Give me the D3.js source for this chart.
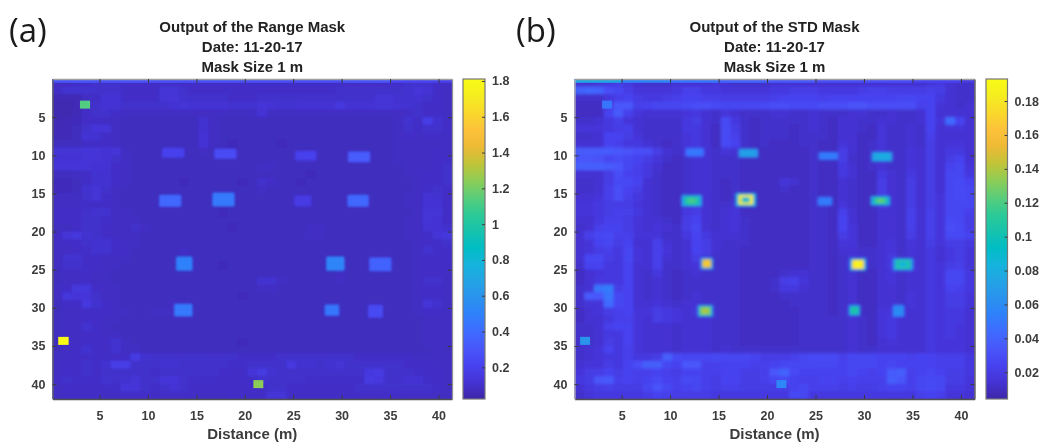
<!DOCTYPE html>
<html><head><meta charset="utf-8">
<script src="https://cdn.jsdelivr.net/npm/d3@7/dist/d3.min.js"></script>
<style>
html,body{margin:0;padding:0;background:#fff;overflow:hidden}
svg{display:block}
text{font-family:"Liberation Sans",Arial,sans-serif;font-weight:bold;fill:#3c3c3c;filter:blur(0.3px)}
</style></head><body>
<script>
const distanceTicks=[5,10,15,20,25,30,35,40];
const rowTicks=[5,10,15,20,25,30,35,40];
const rangeBarTicks=[0.2,0.4,0.6,0.8,1,1.2,1.4,1.6,1.8];
const stdBarTicks=[0.02,0.04,0.06,0.08,0.1,0.12,0.14,0.16,0.18];
const titleLinesA=["Output of the Range Mask","Date: 11-20-17","Mask Size 1 m"];
const titleLinesB=["Output of the STD Mask","Date: 11-20-17","Mask Size 1 m"];
const parula=["#3e26a8","#4433d4","#4742f0","#4856fa","#3f6bff","#2f80fb","#2a92ee","#23a4e5","#14b4dc","#01bdc4","#18c3ac","#2dca95","#5ccd79","#8ecd55","#c2c438","#eeba36","#fdc23a","#f9d82c","#f5ed20","#f9fb15"];
const rangeGrid=[
[9,9,10,10,11,11,11,10,10,10, 10,10,10,10,10,10,10,10,10,10, 10,10,10,10,10,10,10,10,10,10, 10,10,10,10,10,10,11,12,11,10, 9],
[10,12,12,12,11,11,11,10,10,10, 10,14,14,11,10,10,10,10,10,10, 10,10,10,10,10,10,10,10,10,11, 11,11,11,11,11,11,12,15,13,10, 9],
[6,6,6,9,10,13,13,10,10,10, 10,14,14,12,11,11,11,11,10,10, 10,11,11,11,11,11,11,11,11,11, 11,11,11,14,14,12,12,13,11,10, 9],
[5,5,6,9,11,13,13,11,11,11, 11,11,13,14,13,13,13,13,12,12, 12,15,13,12,12,13,13,13,13,17, 13,13,13,14,14,13,12,11,10,10, 9],
[5,5,6,10,11,11,10,9,9,9, 9,9,9,9,9,9,9,9,9,9, 9,13,9,9,9,9,9,9,9,9, 9,9,9,9,9,9,10,11,10,10, 9],
[6,6,7,10,10,9,9,8,8,8, 8,8,8,8,8,12,9,8,8,8, 8,8,8,8,8,8,8,8,8,8, 8,8,8,8,8,9,12,10,20,12, 10],
[6,6,8,11,15,15,9,8,8,8, 8,8,8,8,8,12,9,8,8,8, 8,8,8,8,8,8,8,8,8,8, 8,8,8,8,8,9,11,10,11,11, 10],
[6,6,8,13,12,10,9,8,8,8, 8,8,8,8,8,13,9,8,8,8, 8,8,8,8,8,8,8,8,8,8, 8,8,8,8,8,9,10,9,10,10, 9],
[8,8,8,10,10,10,9,8,8,8, 8,8,8,8,8,13,9,8,7,8, 8,8,8,7,8,8,8,8,8,8, 8,8,8,8,8,9,9,9,9,9, 9],
[14,14,14,15,15,13,14,9,8,8, 8,8,8,8,8,9,8,8,7,8, 8,8,8,8,8,8,8,8,8,8, 8,8,8,8,8,9,9,9,9,10, 9],
[13,13,13,14,14,13,11,9,8,8, 8,8,8,8,8,8,8,8,8,8, 8,8,8,8,8,8,8,8,8,8, 8,8,8,8,8,9,9,9,9,10, 10],
[15,15,15,15,13,13,10,9,8,8, 8,8,8,8,8,8,8,8,8,8, 8,9,9,8,8,8,8,8,8,8, 8,8,8,8,8,8,9,9,9,10, 11],
[8,8,9,10,12,12,10,9,8,8, 8,8,8,8,8,8,8,8,8,8, 8,8,8,8,8,8,7,8,8,8, 8,8,8,8,8,8,9,9,10,10, 11],
[7,7,8,10,12,12,10,9,8,8, 8,8,8,7,8,8,8,8,8,7, 8,11,10,8,8,7,8,8,8,8, 8,8,8,8,8,8,8,9,10,10, 11],
[7,7,8,12,14,11,9,8,8,8, 8,8,8,8,8,8,8,8,8,8, 8,9,8,8,8,8,8,8,8,8, 8,8,8,8,8,8,8,9,10,11, 10],
[9,9,9,11,14,10,9,8,8,8, 8,8,8,8,8,8,8,8,8,8, 8,8,8,8,8,8,8,8,8,8, 8,8,8,8,8,8,9,9,13,12, 10],
[9,9,9,10,10,10,9,8,8,8, 8,8,8,8,8,8,8,8,8,8, 8,8,8,8,8,8,8,8,8,8, 8,8,8,8,8,8,9,9,13,13, 10],
[10,10,10,11,12,12,9,9,8,8, 8,8,8,8,8,8,8,7,8,8, 8,8,8,8,8,8,8,8,8,8, 8,8,8,8,8,8,8,9,14,14, 10],
[10,10,10,11,11,10,9,9,9,8, 8,8,8,8,8,8,8,8,8,8, 8,8,8,8,8,8,8,8,8,8, 8,8,8,8,8,8,9,9,14,13, 10],
[8,8,10,11,11,10,9,9,11,9, 8,8,8,8,8,8,8,8,7,8, 8,8,8,8,8,8,9,9,8,8, 8,8,8,8,8,8,9,9,13,13, 11],
[10,14,16,12,11,10,9,9,9,8, 8,8,8,8,8,8,8,8,8,8, 8,8,8,8,8,8,9,9,8,8, 8,8,8,8,8,8,9,9,10,14, 16],
[9,10,10,11,12,12,10,9,9,8, 8,8,8,8,8,8,8,8,8,8, 8,8,8,8,8,8,8,8,8,8, 8,8,8,8,8,8,8,9,10,10, 11],
[9,9,10,10,12,12,10,10,8,8, 8,8,8,9,8,8,8,8,8,8, 8,8,8,8,8,8,8,8,8,8, 8,8,8,8,8,8,8,9,12,10, 10],
[9,12,12,10,10,9,9,9,8,8, 8,8,8,9,8,8,8,8,8,8, 8,8,8,8,8,8,8,8,8,8, 8,8,8,8,8,8,8,9,10,10, 10],
[9,11,11,10,10,9,9,8,8,8, 8,8,8,8,8,8,8,7,8,8, 8,8,8,8,8,8,8,8,8,9, 8,8,8,8,8,8,8,9,10,10, 10],
[8,9,9,10,9,9,8,8,8,8, 8,8,8,8,8,8,8,8,8,8, 8,8,8,8,8,8,8,8,8,9, 8,8,8,8,8,8,8,9,10,10, 9],
[8,9,9,10,9,9,8,8,8,8, 8,8,8,8,8,8,8,8,8,8, 8,12,12,9,8,8,8,8,8,9, 8,8,8,8,8,8,8,9,11,11, 9],
[9,10,16,16,10,9,9,8,8,8, 8,8,8,8,8,8,8,8,8,8, 8,9,9,8,8,8,8,8,8,8, 8,8,8,8,8,8,8,9,10,10, 9],
[9,16,15,15,11,9,9,8,8,8, 8,8,8,8,8,8,8,8,8,7, 8,8,8,8,8,8,8,8,8,8, 8,8,8,8,8,8,8,9,10,10, 9],
[8,10,10,17,12,10,9,8,8,8, 8,8,9,8,8,8,8,8,8,8, 8,8,8,8,8,8,8,8,8,8, 8,8,8,8,8,8,8,9,15,11, 9],
[8,9,9,10,10,10,9,9,8,8, 9,9,9,8,8,8,8,8,8,8, 8,8,8,8,8,8,8,8,8,8, 8,8,8,8,8,8,8,9,10,10, 9],
[8,9,9,10,10,9,9,8,8,8, 8,8,8,8,8,8,8,8,8,8, 8,8,8,8,8,8,8,8,8,8, 8,8,8,8,8,8,8,8,9,9, 9],
[8,9,9,12,10,9,8,8,8,8, 8,8,8,8,8,8,8,8,8,8, 8,8,8,8,8,8,8,8,8,8, 8,8,8,8,8,8,8,8,9,9, 9],
[8,9,9,10,10,9,9,8,8,8, 8,8,8,8,8,8,8,8,8,8, 8,8,8,8,8,8,8,8,8,8, 8,8,8,8,8,8,8,8,9,9, 9],
[8,9,9,10,10,10,12,9,8,8, 8,8,8,8,8,8,8,8,8,7, 8,8,8,8,8,8,8,8,8,8, 8,8,8,8,8,8,8,8,9,9, 9],
[8,9,10,12,10,9,12,9,9,8, 8,8,8,8,8,8,8,8,8,8, 8,8,8,8,8,8,8,8,8,8, 8,8,8,8,8,8,8,8,8,9, 8],
[9,9,10,10,10,10,10,10,18,12, 11,11,11,11,11,11,11,11,11,10, 10,10,10,11,11,11,11,11,11,11, 11,10,10,10,10,10,10,9,9,9, 9],
[9,10,10,11,10,12,20,20,11,11, 11,12,12,11,11,11,11,11,10,10, 11,11,11,11,17,12,12,11,12,14, 11,11,11,11,11,11,10,10,10,9, 9],
[9,10,10,11,10,11,11,11,11,11, 10,11,11,11,11,11,11,10,10,10, 15,18,12,11,11,11,11,11,11,11, 11,11,17,18,11,11,11,10,10,10, 9],
[10,11,10,10,10,12,11,12,14,11, 11,15,15,11,10,10,10,10,10,10, 10,12,11,11,11,11,10,10,10,10, 10,10,18,17,11,11,13,13,10,10, 9],
[9,10,10,10,10,10,10,15,15,11, 10,11,13,11,10,10,10,10,10,10, 10,10,11,11,10,10,10,10,10,10, 10,11,11,11,11,11,11,11,11,10, 9],
[9,10,10,10,10,9,9,10,10,10, 10,10,10,10,10,9,9,9,10,10, 10,10,14,14,10,10,10,10,10,10, 10,10,10,10,10,10,10,10,10,9, 9]
];
const stdGrid=[
[14,14,16,18,20,18,14,12,12,12, 14,14,14,14,16,14,12,12,12,12, 14,14,14,14,14,14,14,14,14,14, 14,14,14,14,14,14,16,18,14,12, 12],
[40,42,40,30,26,20,16,16,16,16, 18,22,22,18,18,16,16,16,16,16, 18,18,20,20,20,18,18,18,18,20, 22,22,20,20,20,20,22,20,14,12, 12],
[12,12,12,18,22,24,20,18,18,20, 22,24,24,22,22,20,20,20,20,20, 22,24,24,24,24,22,24,24,24,24, 24,24,24,26,26,24,24,18,14,12, 12],
[10,10,10,20,34,34,22,24,26,26, 26,28,30,30,28,26,26,26,26,28, 30,30,28,28,28,30,30,30,32,32, 30,30,30,30,30,22,24,16,14,12, 14],
[10,10,10,24,36,22,16,14,14,14, 14,16,18,14,12,16,14,12,12,12, 14,14,12,12,14,12,12,12,14,14, 12,12,14,12,12,14,24,14,14,14, 14],
[12,12,14,18,22,16,14,12,12,12, 12,18,20,14,12,28,18,12,10,12, 12,12,12,12,14,12,10,14,14,12, 12,14,14,12,12,14,24,16,44,24, 14],
[16,16,16,18,20,22,14,12,12,12, 12,18,18,14,10,28,20,12,10,12, 12,12,10,12,14,12,10,14,14,12, 10,16,12,12,14,12,24,14,16,16, 14],
[12,12,14,24,24,20,16,12,12,12, 12,16,18,14,10,28,22,12,10,12, 12,12,10,12,12,12,10,14,14,10, 10,16,12,12,14,12,22,14,14,14, 14],
[14,14,14,24,22,18,18,14,12,10, 12,16,18,14,10,28,24,12,10,12, 10,10,10,12,12,10,10,16,14,10, 12,16,12,12,14,12,20,14,16,16, 14],
[36,36,36,36,34,32,30,30,20,14, 12,14,16,14,12,16,14,12,10,10, 10,10,10,10,12,10,10,20,14,10, 12,16,12,12,16,14,20,14,18,18, 14],
[34,34,32,26,30,26,24,20,16,12, 10,12,14,14,12,12,12,10,10,10, 10,10,10,10,12,10,10,20,12,10, 12,14,12,12,16,14,20,14,20,24, 14],
[38,38,38,36,34,26,22,18,14,10, 10,12,14,14,12,12,12,10,10,10, 10,10,10,10,12,10,10,18,14,10, 12,14,12,12,16,14,20,14,24,26, 16],
[14,14,14,20,30,24,22,18,12,10, 10,12,14,14,12,12,12,10,10,10, 10,10,10,10,12,10,10,18,14,10, 10,18,14,12,18,14,20,14,26,26, 18],
[12,12,14,20,28,28,24,14,12,10, 10,12,14,14,12,10,12,10,10,10, 10,16,14,10,12,10,10,14,12,10, 10,20,14,12,20,14,20,14,26,28, 24],
[12,12,14,22,30,24,20,14,12,10, 10,12,14,14,12,10,12,10,10,10, 10,12,10,10,12,10,10,14,12,10, 10,20,14,12,20,14,20,14,26,28, 26],
[14,14,16,22,30,22,18,14,12,10, 10,12,14,14,12,10,12,10,10,10, 10,10,10,10,12,10,10,14,12,10, 10,20,14,12,20,14,20,16,26,28, 26],
[16,16,18,20,20,20,16,14,12,10, 10,14,16,14,12,12,14,10,10,10, 10,10,10,10,12,12,10,16,12,10, 10,16,14,12,20,14,20,16,26,26, 26],
[16,16,18,20,22,22,18,14,12,10, 10,18,20,14,12,14,16,10,10,10, 10,10,10,10,12,12,10,22,14,10, 10,14,14,12,22,14,22,16,26,26, 22],
[14,14,18,22,22,20,16,14,14,12, 10,20,24,14,12,14,16,12,10,10, 10,10,10,10,12,12,10,24,14,10, 10,14,14,12,22,14,22,16,28,26, 20],
[12,14,22,24,24,20,16,14,16,14, 12,20,26,14,12,14,16,12,10,10, 10,10,10,10,12,12,10,24,16,10, 10,14,14,12,22,14,22,16,30,28, 20],
[14,22,26,28,22,22,16,16,16,12, 12,18,24,18,14,14,14,12,10,10, 10,10,10,10,12,12,10,20,16,10, 10,14,14,12,20,14,22,16,28,28, 24],
[14,16,24,26,20,24,14,14,22,14, 12,14,24,20,14,12,12,12,10,10, 10,10,10,10,12,12,10,16,16,10, 10,14,16,12,16,14,20,16,20,20, 18],
[14,16,20,22,18,26,16,14,22,16, 12,14,24,20,14,12,12,10,10,10, 10,10,10,10,12,12,10,14,14,12, 12,14,16,12,16,14,18,14,18,20, 16],
[14,26,26,20,18,26,16,14,22,14, 12,14,20,18,12,12,12,10,10,10, 10,10,10,10,12,12,10,12,16,14, 12,14,18,12,14,14,18,14,18,20, 16],
[12,24,24,18,18,24,14,14,22,12, 12,14,16,14,12,12,12,10,10,10, 10,10,10,10,12,12,10,12,18,12, 12,14,18,12,14,14,18,16,20,22, 16],
[10,14,16,18,18,24,14,12,18,12, 10,12,14,12,12,12,12,10,10,10, 10,12,14,14,12,12,10,12,14,10, 10,14,16,12,14,14,18,16,26,26, 18],
[10,14,18,18,18,24,14,12,14,12, 10,12,12,12,12,12,12,10,10,10, 12,20,22,16,12,12,10,12,14,10, 10,14,16,12,14,14,18,16,26,26, 18],
[12,14,48,52,20,24,14,12,14,12, 10,12,12,12,12,12,12,10,10,10, 12,18,18,14,12,12,10,12,14,10, 10,14,14,12,14,14,18,16,24,22, 18],
[12,36,34,48,26,24,14,12,14,12, 10,12,14,12,12,12,12,10,10,10, 10,12,12,12,12,12,10,12,14,10, 10,14,14,12,16,14,18,16,20,20, 16],
[12,16,16,44,26,24,14,14,16,14, 12,14,14,12,12,12,12,10,10,10, 10,10,12,12,12,12,10,12,14,10, 10,14,14,12,16,14,18,16,20,20, 16],
[10,14,16,20,22,24,16,16,20,18, 16,14,16,12,12,12,12,10,10,10, 10,10,10,12,12,12,10,12,14,10, 10,16,16,14,14,14,18,16,18,18, 14],
[10,14,14,18,22,22,16,14,20,18, 16,14,14,14,12,12,12,10,10,10, 10,10,10,12,12,12,12,12,14,12, 10,16,18,14,14,14,18,16,18,18, 14],
[12,12,14,22,24,24,16,14,14,14, 12,14,14,14,12,12,12,10,10,10, 10,10,10,12,12,12,12,12,14,12, 10,16,18,14,14,14,18,16,18,16, 14],
[12,12,14,18,18,24,16,14,14,14, 12,14,14,14,12,12,12,10,10,10, 10,10,10,12,12,12,12,12,14,12, 10,16,18,14,14,14,18,16,18,16, 14],
[12,12,14,20,18,24,16,14,14,14, 12,14,14,14,12,12,12,10,10,10, 10,10,10,12,12,12,12,12,14,12, 10,14,16,14,14,14,18,16,16,16, 14],
[12,14,16,24,18,22,16,14,14,14, 12,14,14,14,12,14,12,12,12,12, 12,12,12,12,12,12,12,12,14,12, 12,14,14,14,14,14,18,16,16,16, 14],
[12,14,16,18,18,22,18,18,20,38, 28,26,26,26,28,26,26,26,24,20, 20,20,22,26,28,28,28,22,26,26, 26,24,24,24,22,24,24,22,22,22, 18],
[14,16,16,20,18,24,30,38,38,26, 24,34,34,22,22,24,24,24,22,22, 24,26,26,26,26,26,26,24,26,26, 26,24,26,24,24,24,24,22,22,22, 18],
[16,20,20,24,20,24,22,22,24,22, 20,24,24,22,22,24,24,20,20,22, 34,40,28,24,24,24,24,24,26,24, 22,24,36,38,22,24,26,24,20,20, 18],
[18,20,34,36,22,24,22,24,28,24, 22,28,26,22,20,24,24,20,20,22, 26,28,24,22,22,24,24,22,24,22, 22,22,38,34,22,26,28,26,20,20, 16],
[14,18,20,22,20,20,20,26,32,26, 22,24,26,22,20,22,22,20,20,20, 20,20,24,26,22,22,22,20,22,20, 20,22,24,24,22,26,28,26,18,18, 16],
[12,16,18,18,18,18,18,20,24,22, 20,20,20,20,18,18,18,18,18,18, 18,18,28,26,18,18,18,18,18,18, 18,18,18,18,18,22,24,22,16,16, 14]
];
const rangeBlocks=[
{x:12.6,y:9.66,w:2.3,h:1.3,v:[0.2]},{x:18,y:9.8,w:2.3,h:1.3,v:[0.26]},{x:26.3,y:10.05,w:2.2,h:1.3,v:[0.2]},{x:31.8,y:10.2,w:2.3,h:1.4,v:[0.33]},
{x:12.3,y:15.96,w:2.3,h:1.6,v:[0.38]},{x:17.8,y:15.8,w:2.3,h:1.85,v:[0.46]},{x:26,y:16,w:1.76,h:1.45,v:[0.17]},{x:31.7,y:15.96,w:2.2,h:1.6,v:[0.38]},
{x:13.75,y:24.2,w:1.7,h:1.85,v:[0.5]},{x:29.35,y:24.2,w:1.9,h:1.85,v:[0.52]},{x:34,y:24.3,w:2.3,h:1.8,v:[0.36]},
{x:13.65,y:30.3,w:1.9,h:1.7,v:[0.46]},{x:29,y:30.3,w:1.5,h:1.45,v:[0.45]},{x:33.5,y:30.45,w:1.55,h:1.7,v:[0.24]}
];
const rangeSpots=[{x:3.5,y:3.36,w:1.05,h:1.05,v:1.13},{x:1.27,y:34.33,w:1.08,h:1.05,v:1.81},{x:21.4,y:40,w:1.03,h:1.05,v:1.24}];
const stdBlocks=[
{x:12.54,y:9.6,w:1.96,h:1.2,v:[0.045,0.05]},{x:18.07,y:9.72,w:2.07,h:1.2,v:[0.065,0.072]},{x:26.33,y:10.1,w:2.07,h:1.05,v:[0.05,0.052]},{x:31.86,y:10.2,w:2.17,h:1.3,v:[0.07,0.078]},
{x:12.23,y:15.96,w:2.17,h:1.6,v:[0.07,0.105,0.118]},{x:17.81,y:15.83,w:2.17,h:1.85,v:[0.08,0.182,0.09]},{x:25.97,y:16.02,w:1.55,h:1.2,v:[0.05,0.052]},{x:31.7,y:15.96,w:2.07,h:1.3,v:[0.07,0.105,0.125]},
{x:13.78,y:24.2,w:1.35,h:1.6,v:[0.07,0.15,0.168]},{x:29.38,y:24.3,w:1.75,h:1.7,v:[0.08,0.175,0.19]},{x:34.03,y:24.3,w:2.17,h:1.7,v:[0.065,0.108,0.085]},
{x:13.63,y:30.4,w:1.65,h:1.6,v:[0.07,0.128,0.14]},{x:29.02,y:30.33,w:1.24,h:1.45,v:[0.065,0.105]},{x:33.56,y:30.4,w:1.24,h:1.6,v:[0.055,0.06]}
];
const stdSpots=[{x:1.23,y:34.33,w:1.03,h:1.05,v:0.065},{x:21.48,y:40,w:1.03,h:1.05,v:0.058},{x:3.5,y:3.36,w:1.03,h:1.05,v:0.048}];
const bandEdges=[0,5,10,15,20,25,30,35,40,42];
const rangeBand=[0.3,0.29,0.28,0.28,0.27,0.27,0.3,0.22,0.2];
const stdBand=[0.075,0.055,0.048,0.04,0.035,0.03,0.03,0.024,0.02];

const W=1039,H=443;
const svg=d3.select("body").append("svg").attr("width",W).attr("height",H).attr("viewBox",[0,0,W,H]);
const defs=svg.append("defs");

function panel(o){
  const {left,right,barL,barR,top,bottom,grid,gridUnit,blocks,spots,band,barDomain,barTicks,barFormat,title,id,blurGrid,blurBlock,frame}=o;
  const color=d3.scaleLinear().domain(d3.range(parula.length).map(i=>barDomain[0]+(barDomain[1]-barDomain[0])*i/(parula.length-1))).range(parula).clamp(true);
  const x=d3.scaleLinear().domain([0.14,41.4]).range([left,right]);
  const y=d3.scaleLinear().domain([0,41.95]).range([top,bottom]);
  const colBand=d3.scaleBand().domain(d3.range(41)).range([left,right]);
  const rowBand=d3.scaleBand().domain(d3.range(42)).range([top,bottom]);
  const barY=d3.scaleLinear().domain(barDomain).range([bottom,top]);
  const mk=(name,s)=>defs.append("filter").attr("id",name).attr("x",left-10).attr("y",top-10).attr("width",right-left+20).attr("height",bottom-top+20).attr("filterUnits","userSpaceOnUse").append("feGaussianBlur").attr("stdDeviation",s);
  mk(id+"g",blurGrid);mk(id+"b",blurBlock);mk(id+"s",0.45);
  defs.append("clipPath").attr("id",id+"c").append("rect").attr("x",left).attr("y",top).attr("width",right-left).attr("height",bottom-top);
  const plot=svg.append("g").attr("clip-path",`url(#${id}c)`);
  plot.append("rect").attr("x",left).attr("y",top).attr("width",right-left).attr("height",bottom-top).attr("fill",color(grid[20][20]*gridUnit));
  const g=plot.append("g").attr("filter",`url(#${id}g)`);
  g.append("rect").attr("x",left-8).attr("y",top-8).attr("width",right-left+16).attr("height",bottom-top+16).attr("fill",color(grid[20][20]*gridUnit));
  g.selectAll("g").data(grid).join("g").attr("transform",(d,i)=>`translate(0,${rowBand(i)})`)
    .selectAll("rect").data(d=>d).join("rect")
    .attr("x",(d,i)=>colBand(i)).attr("width",colBand.bandwidth()+0.5).attr("height",rowBand.bandwidth()+0.5).attr("fill",d=>color(d*gridUnit));
  const ux=x(1)-x(0),uy=y(1)-y(0);
  const bl=plot.append("g").attr("filter",`url(#${id}b)`);
  blocks.forEach(b=>{
    b.v.forEach((v,k)=>{
      const f=1-k*0.3;
      const w=b.w*f*ux,h=b.h*f*uy;
      bl.append("rect").attr("x",x(b.x)-w/2).attr("y",y(b.y)-h/2).attr("width",w).attr("height",h).attr("rx",1.5).attr("fill",color(v));
    });
  });
  plot.append("g").attr("filter",`url(#${id}s)`).selectAll("rect").data(spots).join("rect")
    .attr("x",d=>x(d.x)-d.w*ux/2).attr("y",d=>y(d.y)-d.h*uy/2).attr("width",d=>d.w*ux).attr("height",d=>d.h*uy).attr("fill",d=>color(d.v));
  const sharp=plot.append("g");
  band.forEach((v,i)=>{
    sharp.append("rect").attr("x",x(bandEdges[i])).attr("y",top).attr("width",x(bandEdges[i+1])-x(bandEdges[i])).attr("height",y(0.5)-top).attr("fill",color(v));
  });
  const style=(sel,col)=>{sel.selectAll(".domain").attr("stroke",col).attr("stroke-width",1.3);sel.selectAll(".tick line").attr("stroke","#3c3c3c").attr("stroke-width",1);sel.selectAll("text").style("font-size","12.5px").attr("fill","#3c3c3c");};
  const ax=svg.append("g").attr("transform",`translate(0,${bottom})`).call(d3.axisBottom(x).tickValues(distanceTicks).tickSizeInner(-4).tickSizeOuter(0).tickPadding(12).tickFormat(d3.format("d")));
  style(ax,frame.bottom);
  const at=svg.append("g").attr("transform",`translate(0,${top})`).call(d3.axisTop(x).tickValues(distanceTicks).tickSizeInner(-4).tickSizeOuter(0).tickFormat(""));
  style(at,frame.top);
  const ay=svg.append("g").attr("transform",`translate(${left},0)`).call(d3.axisLeft(y).tickValues(rowTicks).tickSizeInner(-4).tickSizeOuter(0).tickPadding(7).tickFormat(d3.format("d")));
  style(ay,frame.left);
  const ar=svg.append("g").attr("transform",`translate(${right},0)`).call(d3.axisRight(y).tickValues(rowTicks).tickSizeInner(-4).tickSizeOuter(0).tickFormat(""));
  style(ar,frame.right);
  const lg=defs.append("linearGradient").attr("id",id+"lg").attr("x1",0).attr("x2",0).attr("y1",1).attr("y2",0);
  parula.forEach((c,i)=>lg.append("stop").attr("offset",i/(parula.length-1)).attr("stop-color",c));
  svg.append("rect").attr("x",barL).attr("y",top).attr("width",barR-barL).attr("height",bottom-top).attr("fill",`url(#${id}lg)`).attr("stroke","#777").attr("stroke-width",1.2);
  const ab=svg.append("g").attr("transform",`translate(${barR},0)`).call(d3.axisRight(barY).tickValues(barTicks).tickSizeInner(-3).tickSizeOuter(0).tickPadding(7).tickFormat(barFormat));
  ab.select(".domain").remove();
  style(ab,"#777");
  const cx=(left+right)/2;
  title.forEach((t,i)=>svg.append("text").attr("x",cx).attr("y",[32,52,71.5][i]).attr("text-anchor","middle").style("font-size","15px").style("fill","#222").text(t));
  svg.append("text").attr("x",cx).attr("y",439).attr("text-anchor","middle").style("font-size","15px").text("Distance (m)");
}
panel({id:"a",left:52.5,right:452,barL:463,barR:485,top:79,bottom:399,grid:rangeGrid,gridUnit:0.009,blocks:rangeBlocks,spots:rangeSpots,band:rangeBand,barDomain:[0.023,1.811],barTicks:rangeBarTicks,barFormat:d=>String(d),title:titleLinesA,blurGrid:0.9,blurBlock:1.1,frame:{top:"#a0a0a0",left:"#606060",right:"#909090",bottom:"#505050"}});
panel({id:"b",left:574.5,right:974.5,barL:986,barR:1007.5,top:79,bottom:399,grid:stdGrid,gridUnit:0.001,blocks:stdBlocks,spots:stdSpots,band:stdBand,barDomain:[0.0042,0.193],barTicks:stdBarTicks,barFormat:d=>String(d),title:titleLinesB,blurGrid:1.7,blurBlock:1.5,frame:{top:"#a0a0a0",left:"#b0b0b0",right:"#505050",bottom:"#505050"}});
[["(a)",9],["(b)",516]].forEach(([t,px])=>svg.append("text").attr("x",px).attr("y",42).style("font-family","'Open Sans','Noto Sans',sans-serif").style("font-weight","400").style("font-size","33px").style("fill","#1a1a1a").text(t));
</script>
</body></html>
